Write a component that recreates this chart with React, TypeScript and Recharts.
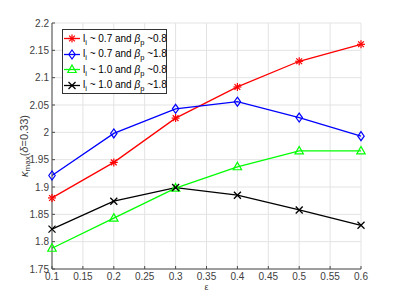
import React from 'react'
import { LineChart, Line, XAxis, YAxis, CartesianGrid } from 'recharts'

const eps = [0.1, 0.2, 0.3, 0.4, 0.5, 0.6]
const red = [1.88, 1.945, 2.026, 2.083, 2.13, 2.161]
const blue = [1.921, 1.998, 2.043, 2.056, 2.027, 1.993]
const green = [1.788, 1.843, 1.898, 1.937, 1.966, 1.966]
const black = [1.823, 1.874, 1.899, 1.885, 1.858, 1.83]

const xTicks = [0.1, 0.15, 0.2, 0.25, 0.3, 0.35, 0.4, 0.45, 0.5, 0.55, 0.6]
const yTicks = [1.75, 1.8, 1.85, 1.9, 1.95, 2, 2.05, 2.1, 2.15, 2.2]

const legendItems = [
  { key: 'r', color: '#ff0000', li: '0.7', bp: '0.8' },
  { key: 'b', color: '#0000ff', li: '0.7', bp: '1.8' },
  { key: 'g', color: '#00ff00', li: '1.0', bp: '0.8' },
  { key: 'k', color: '#000000', li: '1.0', bp: '1.8' },
]

const data = eps.map((e, i) => ({ eps: e, r: red[i], b: blue[i], g: green[i], k: black[i] }))

const FONT = '"Liberation Sans", Arial, sans-serif'
const AXIS = '#4a4a4a'

function Marker({ kind, cx, cy, color }: { kind: string; cx: number; cy: number; color: string }) {
  const s = 4
  if (kind === 'r') {
    const d = s * 0.72
    return (
      <g stroke={color} strokeWidth={1.2}>
        <line x1={cx - s} y1={cy} x2={cx + s} y2={cy} />
        <line x1={cx} y1={cy - s} x2={cx} y2={cy + s} />
        <line x1={cx - d} y1={cy - d} x2={cx + d} y2={cy + d} />
        <line x1={cx - d} y1={cy + d} x2={cx + d} y2={cy - d} />
      </g>
    )
  }
  if (kind === 'b') {
    return <polygon points={`${cx},${cy - 4.5} ${cx + 3.2},${cy} ${cx},${cy + 4.5} ${cx - 3.2},${cy}`} fill="none" stroke={color} strokeWidth={1.2} />
  }
  if (kind === 'g') {
    return <polygon points={`${cx},${cy - 4.5} ${cx + 4.2},${cy + 3} ${cx - 4.2},${cy + 3}`} fill="none" stroke={color} strokeWidth={1.2} />
  }
  return (
    <g stroke={color} strokeWidth={1.3}>
      <line x1={cx - 3.5} y1={cy - 3.5} x2={cx + 3.5} y2={cy + 3.5} />
      <line x1={cx - 3.5} y1={cy + 3.5} x2={cx + 3.5} y2={cy - 3.5} />
    </g>
  )
}

const dot = (kind: string, color: string) => (p: any) =>
  <Marker key={`${kind}-${p.index}`} kind={kind} cx={p.cx} cy={p.cy} color={color} />

const emptyTick = () => <g />

export default function App() {
  return (
    <div style={{ position: 'absolute', left: 0, top: 0, width: 399, height: 303, background: '#fff', fontFamily: FONT }}>
      <LineChart width={399} height={303} data={data} margin={{ top: 23, right: 38, bottom: 4, left: 12 }}>
        <CartesianGrid stroke="#e3e3e3" strokeWidth={1} />
        <XAxis
          dataKey="eps" type="number" domain={[0.1, 0.6]} ticks={xTicks} height={30}
          tickSize={-3} tickMargin={7} stroke={AXIS}
          tick={{ fill: '#404040', fontSize: 10, fontFamily: FONT }}
          tickFormatter={(v: number) => String(v)}
          label={{
            content: ({ viewBox }: any) => (
              <text x={viewBox.x + viewBox.width / 2} y={viewBox.y + 21} textAnchor="middle" fontSize={9} fill="#404040" fontFamily={FONT}>ε</text>
            ),
          }}
        />
        <XAxis xAxisId="top" orientation="top" type="number" domain={[0.1, 0.6]} ticks={xTicks} height={0}
          tickSize={-3} stroke={AXIS} tick={emptyTick} />
        <YAxis
          type="number" domain={[1.75, 2.2]} ticks={yTicks} width={40}
          tickSize={-3} tickMargin={6} stroke={AXIS}
          tick={{ fill: '#404040', fontSize: 10, fontFamily: FONT }}
          tickFormatter={(v: number) => String(v)}
          label={{
            content: ({ viewBox }: any) => {
              const x = viewBox.x + 12
              const y = viewBox.y + viewBox.height / 2
              return (
                <text x={x} y={y} transform={`rotate(-90 ${x} ${y})`} textAnchor="middle" dominantBaseline="central" fontSize={11} fill="#404040" fontFamily={FONT}>
                  <tspan fontStyle="italic">κ</tspan>
                  <tspan fontSize={8} dy={3}>max</tspan>
                  <tspan dy={-3}>(</tspan>
                  <tspan fontStyle="italic">δ</tspan>
                  <tspan>=0.33)</tspan>
                </text>
              )
            },
          }}
        />
        <YAxis yAxisId="right" orientation="right" type="number" domain={[1.75, 2.2]} ticks={yTicks} width={0}
          tickSize={-3} stroke={AXIS} tick={emptyTick} />
        <Line dataKey="r" stroke="#ff0000" strokeWidth={1.3} dot={dot('r', '#ff0000')} isAnimationActive={false} />
        <Line dataKey="b" stroke="#0000ff" strokeWidth={1.3} dot={dot('b', '#0000ff')} isAnimationActive={false} />
        <Line dataKey="g" stroke="#00ff00" strokeWidth={1.3} dot={dot('g', '#00ff00')} isAnimationActive={false} />
        <Line dataKey="k" stroke="#000000" strokeWidth={1.3} dot={dot('k', '#000000')} isAnimationActive={false} />
      </LineChart>
      <div style={{
        position: 'absolute', left: 62, top: 29, width: 105, height: 65, border: '1px solid #333',
        background: '#fff', padding: '1px 0', boxSizing: 'border-box', zIndex: 10,
      }}>
        {legendItems.map(it => (
          <div key={it.key} style={{ display: 'flex', alignItems: 'center', height: 15.5, fontSize: 10, lineHeight: '12px', color: '#000', whiteSpace: 'nowrap' }}>
            <svg width={17} height={15} style={{ marginLeft: 1, flexShrink: 0, display: 'block' }}>
              <line x1={0} y1={7.5} x2={16} y2={7.5} stroke={it.color} strokeWidth={1.3} />
              <Marker kind={it.key} cx={8} cy={7.5} color={it.color} />
            </svg>
            <span style={{ marginLeft: 2 }}>
              l<sub style={{ fontSize: 7.5, lineHeight: 0 }}>i</sub> ~ {it.li} and <i>β</i><sub style={{ fontSize: 7.5, lineHeight: 0 }}>p</sub> ~{it.bp}
            </span>
          </div>
        ))}
      </div>
    </div>
  )
}
